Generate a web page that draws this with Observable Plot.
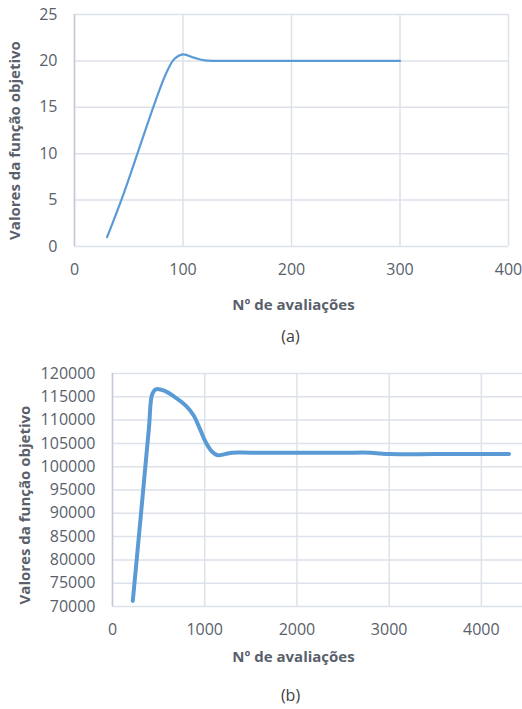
<!DOCTYPE html>
<html>
<head>
<meta charset="utf-8">
<script src="https://cdn.jsdelivr.net/npm/d3@7"></script>
<script src="https://cdn.jsdelivr.net/npm/@observablehq/plot@0.6"></script>
<style>
  html, body { margin: 0; padding: 0; background: #fff; }
  #wrap { position: relative; width: 522px; height: 709px; background: #fff; font-family: "Open Sans", sans-serif; }
  #wrap svg { display: block; overflow: visible; }
</style>
</head>
<body>
<div id="wrap"></div>
<script>
// ---- Chart (a) data ----
const evalsA = [30, 45, 60, 75, 85, 92, 100, 110, 120, 130, 150, 200, 250, 300];
const valuesA = [1, 5.6, 10.7, 15.8, 18.8, 20.2, 20.7, 20.35, 20.05, 20, 20, 20, 20, 20];
const xTicksA = [0, 100, 200, 300, 400];
const yTicksA = [0, 5, 10, 15, 20, 25];

// ---- Chart (b) data ----
const evalsB = [220, 300, 395, 430, 470, 560, 700, 800, 880, 950, 1010, 1080, 1140, 1220, 1300, 1500, 2000, 2500, 2800, 2900, 3000, 3500, 4000, 4300];
const valuesB = [71200, 88000, 108300, 115500, 116600, 116300, 114600, 113000, 111000, 108000, 105300, 103200, 102450, 102700, 103000, 103000, 103000, 103000, 103000, 102850, 102700, 102700, 102700, 102700];
const xTicksB = [0, 1000, 2000, 3000, 4000];
const yTicksB = [70000, 75000, 80000, 85000, 90000, 95000, 100000, 105000, 110000, 115000, 120000];

const xTitle = "Nº de avaliações";
const yTitle = "Valores da função objetivo";
const captionA = "(a)";
const captionB = "(b)";

const lineColor = "#5b9bd5";
const gridColor = "#dde2ea";
const axisColor = "#c3cad5";
const textColor = "#595f6b";

const dataA = evalsA.map((e, i) => ({e, v: valuesA[i]}));
const dataB = evalsB.map((e, i) => ({e, v: valuesB[i]}));

const chartA = Plot.plot({
  width: 522,
  height: 360,
  marginLeft: 74,
  marginRight: 14,
  marginTop: 14,
  marginBottom: 114,
  style: {fontFamily: "'Open Sans', sans-serif", color: textColor, background: "transparent"},
  x: {domain: [0, 400]},
  y: {domain: [0, 25]},
  marks: [
    Plot.gridX(xTicksA, {stroke: gridColor, strokeOpacity: 1, strokeWidth: 1.5}),
    Plot.gridY(yTicksA, {stroke: gridColor, strokeOpacity: 1, strokeWidth: 1.5}),
    Plot.ruleX([0], {stroke: axisColor, strokeWidth: 1.5}),
    Plot.axisX(xTicksA, {tickSize: 0, tickPadding: 17, fontSize: 16, label: null, fill: textColor}),
    Plot.axisY(yTicksA, {tickSize: 0, tickPadding: 17, fontSize: 16, label: null, fill: textColor}),
    Plot.line(dataA, {x: "e", y: "v", stroke: lineColor, strokeWidth: 2.2, curve: "catmull-rom"}),
    Plot.text([xTitle], {frameAnchor: "bottom", textAnchor: "middle", lineAnchor: "middle", dy: 59, dx: 2, fontSize: 15, fontWeight: "bold", fill: textColor}),
    Plot.text([yTitle], {frameAnchor: "left", textAnchor: "middle", lineAnchor: "middle", rotate: -90, dx: -59, dy: 10, fontSize: 15, fontWeight: "bold", fill: textColor}),
    Plot.text([captionA], {frameAnchor: "bottom", textAnchor: "middle", lineAnchor: "middle", dy: 90, dx: -1, fontSize: 16, fill: "#404040"})
  ]
});

const chartB = Plot.plot({
  width: 522,
  height: 349,
  marginLeft: 112,
  marginRight: 0,
  marginTop: 13,
  marginBottom: 103,
  style: {fontFamily: "'Open Sans', sans-serif", color: textColor, background: "transparent"},
  x: {domain: [0, 4446]},
  y: {domain: [70000, 120000]},
  marks: [
    Plot.gridX(xTicksB, {stroke: gridColor, strokeOpacity: 1, strokeWidth: 1.5}),
    Plot.gridY(yTicksB, {stroke: gridColor, strokeOpacity: 1, strokeWidth: 1.5}),
    Plot.ruleX([0], {stroke: axisColor, strokeWidth: 1.5}),
    Plot.axisX(xTicksB, {tickSize: 0, tickPadding: 17, fontSize: 16, label: null, fill: textColor, tickFormat: d3.format("d")}),
    Plot.axisY(yTicksB, {tickSize: 0, tickPadding: 17, fontSize: 16, label: null, fill: textColor, tickFormat: d3.format("d")}),
    Plot.line(dataB, {x: "e", y: "v", stroke: lineColor, strokeWidth: 4, curve: "catmull-rom"}),
    Plot.text([xTitle], {frameAnchor: "bottom", textAnchor: "middle", lineAnchor: "middle", dy: 51, dx: -24, fontSize: 15, fontWeight: "bold", fill: textColor}),
    Plot.text([yTitle], {frameAnchor: "left", textAnchor: "middle", lineAnchor: "middle", rotate: -90, dx: -87, dy: 15, fontSize: 15, fontWeight: "bold", fill: textColor}),
    Plot.text([captionB], {frameAnchor: "bottom", textAnchor: "middle", lineAnchor: "middle", dy: 89, dx: -27, fontSize: 16, fill: "#404040"})
  ]
});

const wrap = document.getElementById("wrap");
wrap.appendChild(chartA);
wrap.appendChild(chartB);
</script>
</body>
</html>
